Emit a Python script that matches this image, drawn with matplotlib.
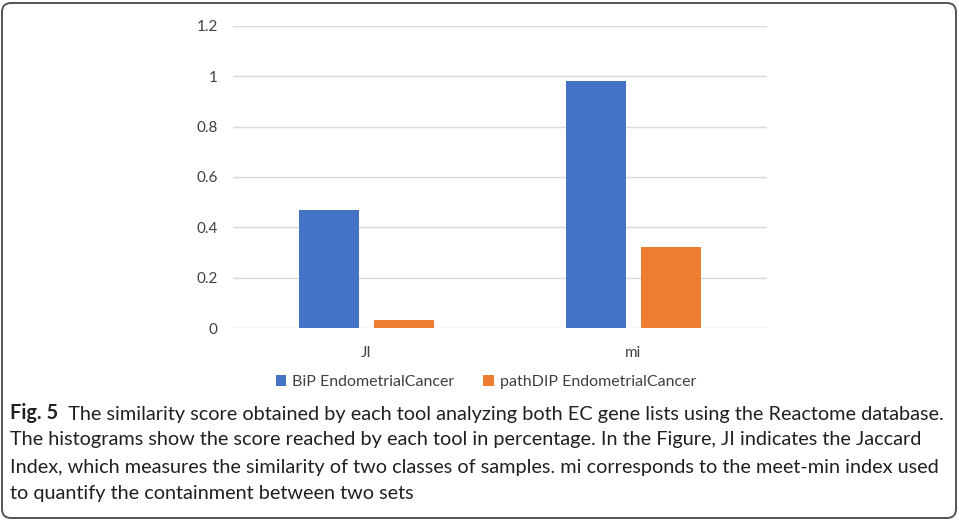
import numpy as np
import matplotlib
matplotlib.use("Agg")
import matplotlib.pyplot as plt
import matplotlib.patches as mpatches
from matplotlib.transforms import IdentityTransform

# data
categories = ["JI", "mi"]
bip_scores = [0.47, 0.98]
pathdip_scores = [0.03, 0.32]
series_names = ["BiP EndometrialCancer", "pathDIP EndometrialCancer"]
y_ticks = [0, 0.2, 0.4, 0.6, 0.8, 1, 1.2]
y_tick_labels = ["0", "0.2", "0.4", "0.6", "0.8", "1", "1.2"]

caption_head = "Fig. 5"
caption_lines = [
    "The similarity score obtained by each tool analyzing both EC gene lists using the Reactome database.",
    "The histograms show the score reached by each tool in percentage. In the Figure, JI indicates the Jaccard",
    "Index, which measures the similarity of two classes of samples. mi corresponds to the meet-min index used",
    "to quantify the containment between two sets",
]

plt.rcParams["font.family"] = ["Lato", "DejaVu Sans"]
cap_font = ["Lato", "DejaVu Sans"]
cap_size = 14.3

W, H = 959, 520
fig = plt.figure(figsize=(W / 100, H / 100), dpi=100)
ax = fig.add_axes([233 / W, 192 / H, 534 / W, 302 / H])

x = np.arange(len(categories))
bw = 0.225
off = 0.142
ax.bar(x - off, bip_scores, bw, color="#4472C4", label=series_names[0], zorder=3)
ax.bar(x + off, pathdip_scores, bw, color="#ED7D31", label=series_names[1], zorder=3)

ax.set_xlim(-0.5, 1.5)
ax.set_ylim(0, 1.2)
ax.set_yticks(y_ticks)
ax.set_yticklabels(y_tick_labels)
ax.set_xticks(x)
ax.set_xticklabels(categories)
ax.yaxis.grid(True, color="#D9D9D9", linewidth=1.0, zorder=0)
for s in ax.spines.values():
    s.set_visible(False)
ax.tick_params(axis="both", length=0, labelsize=11, colors="#404040")
ax.tick_params(axis="y", pad=11)
ax.tick_params(axis="x", pad=13)

fig.legend(loc="center", bbox_to_anchor=(486 / W, 1 - 382 / H), ncol=2,
           frameon=False, fontsize=11.5, handlelength=0.65, handleheight=0.65,
           columnspacing=1.8, handletextpad=0.4, labelcolor="#404040")

# caption
y0 = 413
for i, line in enumerate(caption_lines):
    yy = 1 - (y0 + 27 * i) / H
    if i == 0:
        head = fig.text(10 / W, yy, caption_head, fontsize=cap_size, fontweight="bold",
                        family=cap_font, color="#231F20", va="center", ha="left")
        ax.annotate("  " + line, xy=(1, 0), xycoords=head, va="bottom", ha="left",
                    fontsize=cap_size, family=cap_font, color="#231F20")
    else:
        fig.text(10 / W, yy, line, fontsize=cap_size, family=cap_font,
                 color="#231F20", va="center", ha="left")

# rounded frame around the whole figure
frame = mpatches.FancyBboxPatch((2, 2), W - 5, H - 5,
                                boxstyle="round,pad=0,rounding_size=9",
                                transform=IdentityTransform(), fill=False,
                                edgecolor="#555555", linewidth=1.4)
fig.patches.append(frame)

fig.savefig("out.png", dpi=100)
